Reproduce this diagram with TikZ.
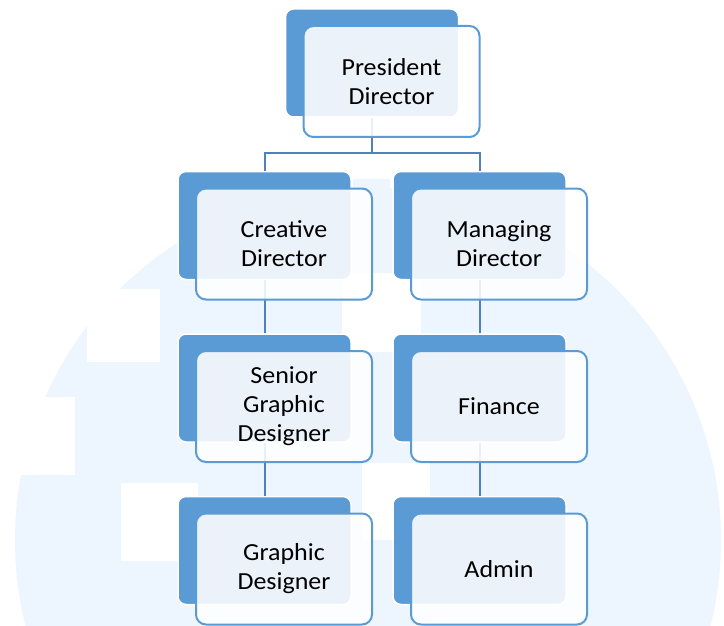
\documentclass[tikz,border=0pt]{standalone}
\usepackage{fontspec}
\setmainfont{Carlito}[FakeStretch=1.06]
\definecolor{boxblue}{RGB}{91,155,213}
\definecolor{linkblue}{RGB}{79,129,189}
\definecolor{bgblue}{RGB}{237,246,254}
\begin{document}
\begin{tikzpicture}[x=1pt,y=-1pt,
  backbox/.style={fill=boxblue, draw=white, line width=1.5pt, rounded corners=8pt,
    minimum width=173pt, minimum height=108pt, inner sep=0pt},
  frontbox/.style={fill=white, fill opacity=0.88, text opacity=1, draw=boxblue, draw opacity=1,
    line width=2pt, rounded corners=10pt, minimum width=176pt, minimum height=111pt,
    align=center, font=\fontsize{24.5}{29}\selectfont, inner sep=0pt},
  link/.style={draw=linkblue, line width=2pt},
  wm/.style={fill=bgblue},
  wmcut/.style={fill=white}]
\useasboundingbox (0,0) rectangle (724,626);
% watermark background
\begin{scope}
  \clip (0,0) rectangle (724,626);
  \fill[white] (0,0) rectangle (724,626);
  \fill[wm] (368,540) circle (353pt);
  \fill[wm] (353,179) rectangle (390,273);
  \fill[wmcut] (87,289) rectangle (160,362);
  \fill[wmcut] (0,397) rectangle (75,475);
  \fill[wmcut] (121,483) rectangle (198,561);
  \fill[wmcut] (342,273) rectangle (421,352);
  \fill[wmcut] (362,463) rectangle (430,540);
\end{scope}
% back boxes
\node[backbox] (b0) at (372,63) {};
\node[backbox] (b1) at (264.5,225.5) {};
\node[backbox] (b2) at (479.5,225.5) {};
\node[backbox] (b3) at (264.5,388) {};
\node[backbox] (b4) at (479.5,388) {};
\node[backbox] (b5) at (264.5,550.5) {};
\node[backbox] (b6) at (479.5,550.5) {};
% connectors
\coordinate (j) at (372,153);
\draw[link] (b0.south) -- (j);
\draw[link] (j) -| (b1.north);
\draw[link] (j) -| (b2.north);
\draw[link] (b1.south) -- (b3.north);
\draw[link] (b3.south) -- (b5.north);
\draw[link] (b2.south) -- (b4.north);
\draw[link] (b4.south) -- (b6.north);
% front boxes
\node[frontbox] (f0) at (391.5,81.5) {President\\Director};
\node[frontbox] (f1) at (284,244) {Creative\\Director};
\node[frontbox] (f2) at (499,244) {Managing\\Director};
\node[frontbox] (f3) at (284,406.5) {Senior\\Graphic\\Designer};
\node[frontbox] (f4) at (499,406.5) {Finance};
\node[frontbox] (f5) at (284,569) {Graphic\\Designer};
\node[frontbox] (f6) at (499,569) {Admin};
\end{tikzpicture}
\end{document}
